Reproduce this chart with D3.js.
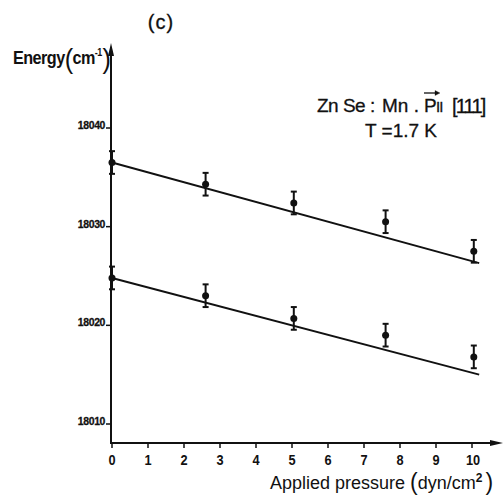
<!DOCTYPE html>
<html>
<head>
<meta charset="utf-8">
<script src="https://cdn.jsdelivr.net/npm/d3@7"></script>
<style>
	body { margin: 0; background: #fff; }
	svg { display: block; }
</style>
</head>
<body>
<script>
/* Data
***********************************************************************/
var pressure = [0, 2.6, 5.05, 7.6, 10.05];
var upperEnergy = [18036.3, 18034.1, 18032.2, 18030.3, 18027.3];
var lowerEnergy = [18024.6, 18022.8, 18020.5, 18018.8, 18016.6];
var errHalf = 1.15;

// fitted straight lines, [pressure, energy] end points
var upperFit = [[0, 18036.3], [10.2, 18026.1]];
var lowerFit = [[0, 18024.6], [10.2, 18014.8]];

var xTicks = [0, 1, 2, 3, 4, 5, 6, 7, 8, 9, 10];
var yTicks = [18010, 18020, 18030, 18040];


/* Setup SVG
***********************************************************************/
var svgW = 503;
var svgH = 497;
var ink = "#111";

var svg = d3.select("body").append("svg")
	.attr("width", svgW)
	.attr("height", svgH);

var xScale = d3.scaleLinear().domain([0, 10]).range([112, 472]);
var yScale = d3.scaleLinear().domain([18010, 18040]).range([422, 126]);

var axisX0 = 111;  // y axis position
var axisY0 = 443;  // x axis position

var textFont = "'Liberation Sans', Arial, sans-serif";


/* Axes
***********************************************************************/
var axes = svg.append("g").attr("id", "axes");

// y axis with arrow
axes.append("line")
	.attr("x1", axisX0).attr("y1", axisY0 + 1)
	.attr("x2", axisX0).attr("y2", 50)
	.attr("stroke", ink).attr("stroke-width", 2);
axes.append("path")
	.attr("d", "M" + (axisX0 - 3) + ",56 L" + axisX0 + ",43 L" + (axisX0 + 3) + ",56 Z")
	.attr("fill", ink);

// x axis with arrow
axes.append("line")
	.attr("x1", axisX0 - 1).attr("y1", axisY0)
	.attr("x2", 496).attr("y2", axisY0)
	.attr("stroke", ink).attr("stroke-width", 2);
axes.append("path")
	.attr("d", "M490," + (axisY0 - 3) + " L503," + axisY0 + " L490," + (axisY0 + 3) + " Z")
	.attr("fill", ink);

// y ticks + labels
yTicks.forEach(function(v) {
	axes.append("line")
		.attr("x1", axisX0 - 5).attr("x2", axisX0)
		.attr("y1", yScale(v) + 2).attr("y2", yScale(v) + 2)
		.attr("stroke", ink).attr("stroke-width", 1.5);
	axes.append("text")
		.text(v)
		.attr("transform", "translate(" + (axisX0 - 6) + "," + (yScale(v) + 3) + ") scale(0.95,1)")
		.attr("text-anchor", "end")
		.attr("font-family", textFont)
		.attr("font-weight", "bold")
		.attr("font-size", "11px")
		.attr("letter-spacing", "-0.4")
		.attr("stroke", ink)
		.attr("stroke-width", 0.3)
		.attr("fill", ink);
});

// x ticks + labels
xTicks.forEach(function(v) {
	axes.append("line")
		.attr("x1", xScale(v)).attr("x2", xScale(v))
		.attr("y1", axisY0).attr("y2", axisY0 + 5)
		.attr("stroke", ink).attr("stroke-width", 1.5);
	axes.append("text")
		.text(v)
		.attr("transform", "translate(" + (xScale(v) + (v === 10 ? 1 : 0)) + "," + (axisY0 + 22) + ") scale(0.85,1)")
		.attr("text-anchor", "middle")
		.attr("font-family", textFont)
		.attr("font-weight", "bold")
		.attr("font-size", "15px")
		.attr("fill", ink);
});


/* Fit lines and data
***********************************************************************/
var lineGen = d3.line()
	.x(function(d) { return xScale(d[0]); })
	.y(function(d) { return yScale(d[1]); });

var plot = svg.append("g").attr("id", "plot");

[upperFit, lowerFit].forEach(function(fit) {
	plot.append("path")
		.attr("d", lineGen(fit))
		.attr("stroke", ink)
		.attr("stroke-width", 2)
		.attr("fill", "none");
});

function drawSeries(vals) {
	vals.forEach(function(e, i) {
		var cx = xScale(pressure[i]);
		var top = yScale(e + errHalf);
		var bot = yScale(e - errHalf);
		plot.append("line")
			.attr("x1", cx).attr("x2", cx)
			.attr("y1", top).attr("y2", bot)
			.attr("stroke", ink).attr("stroke-width", 2);
		[top, bot].forEach(function(yy) {
			plot.append("line")
				.attr("x1", cx - 3).attr("x2", cx + 3)
				.attr("y1", yy).attr("y2", yy)
				.attr("stroke", ink).attr("stroke-width", 2);
		});
		plot.append("circle")
			.attr("cx", cx)
			.attr("cy", yScale(e))
			.attr("r", 3.5)
			.attr("fill", ink);
	});
}
drawSeries(upperEnergy);
drawSeries(lowerEnergy);


/* Labels
***********************************************************************/
var labels = svg.append("g").attr("id", "labels");

// panel letter
labels.append("text")
	.text("(c)")
	.attr("x", 161).attr("y", 29)
	.attr("text-anchor", "middle")
	.attr("font-family", textFont)
	.attr("font-size", "20px")
	.attr("letter-spacing", "1")
	.attr("stroke", ink)
	.attr("stroke-width", 0.3)
	.attr("fill", ink);

// y axis title (condensed bold)
var yt = labels.append("text")
	.attr("transform", "translate(13,64) scale(0.9,1)")
	.attr("font-family", textFont)
	.attr("font-weight", "bold")
	.attr("font-size", "18px")
	.attr("letter-spacing", "-0.6")
	.attr("fill", ink);
yt.append("tspan").text("Energy");
yt.append("tspan").text("(").attr("font-size", "28px").attr("font-weight", "normal").attr("dy", 4);
yt.append("tspan").text("cm").attr("dy", -4);
yt.append("tspan").text("-1").attr("font-size", "10px").attr("dy", -8);
yt.append("tspan").text(")").attr("font-size", "28px").attr("font-weight", "normal").attr("dx", 1).attr("dy", 12);

// x axis title
var xt = labels.append("text")
	.attr("x", 270).attr("y", 489)
	.attr("font-family", textFont)
	.attr("font-size", "18px")
	.attr("fill", ink);
xt.append("tspan").text("Applied pressure ");
xt.append("tspan").text("(").attr("font-size", "23px").attr("dy", 1);
xt.append("tspan").text("dyn/cm").attr("dy", -1);
xt.append("tspan").text("2").attr("font-size", "12px").attr("font-weight", "bold").attr("dy", -7);
xt.append("tspan").text(")").attr("font-size", "23px").attr("dx", 3).attr("dy", 8);

// sample annotation
var ann = labels.append("g")
	.attr("font-family", textFont)
	.attr("font-size", "19px")
	.attr("stroke", ink)
	.attr("stroke-width", 0.3)
	.attr("fill", ink);
ann.append("text").text("Zn Se :").attr("x", 317).attr("y", 112).attr("letter-spacing", "-0.5");
ann.append("text").text("Mn .").attr("x", 382).attr("y", 112);
ann.append("text").text("P").attr("x", 424).attr("y", 112);
ann.append("text").text("II").attr("x", 436).attr("y", 112).attr("font-size", "15px").attr("letter-spacing", "-1");
ann.append("text").text("[111]").attr("x", 452).attr("y", 113).attr("font-size", "20px").attr("letter-spacing", "-1.8");
// vector arrow over P
ann.append("line")
	.attr("x1", 424).attr("x2", 437).attr("y1", 93).attr("y2", 93)
	.attr("stroke", ink).attr("stroke-width", 1.3);
ann.append("path")
	.attr("d", "M435,90.5 L440,93 L435,95.5 Z")
	.attr("fill", ink);
ann.append("text").text("T =1.7 K").attr("x", 365).attr("y", 137);
</script>
</body>
</html>
